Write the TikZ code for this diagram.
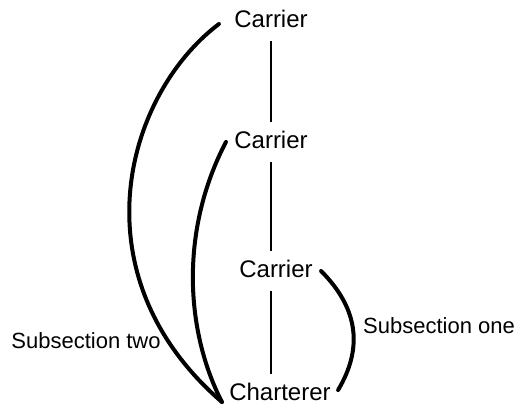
\documentclass[tikz,border=0pt]{standalone}
\usepackage{fontspec}
\setmainfont{Liberation Sans}
\usepackage{tikz}
\usetikzlibrary{positioning}

\begin{document}
\begin{tikzpicture}[x=0.5pt, y=-0.5pt,
    party/.style={font=\fontsize{12}{14}\selectfont, text height=9pt, text depth=3pt, inner sep=4pt},
    note/.style={font=\fontsize{11}{13}\selectfont, text height=8.25pt, text depth=2.75pt, inner sep=0pt},
    spine/.style={line width=1pt},
    leg/.style={line width=2pt, line cap=round}]
  \useasboundingbox (0,0) rectangle (519,407);
  % the chain of parties
  \node[party] (c1) at (271,21)  {Carrier};
  \node[party] (c2) at (271,142) {Carrier};
  \node[party] (c3) at (276,271) {Carrier};
  \node[party] (ch) at (280,394) {Charterer};
  \draw[spine] (c1) -- (c2);
  \draw[spine] (c2) -- (c2 |- c3.north);
  \draw[spine] (c2 |- c3.south) -- (c2 |- ch.north);
  % subsections
  \coordinate (foot) at ([shift={(1,8)}]ch.west);
  \draw[leg] ([shift={(-7,3)}]c1.west) .. controls (125,95) and (75,275) .. (foot);
  \draw[leg] (c2.west) .. controls (180,230) and (185,330) .. (foot);
  \draw[leg] (c3.east) .. controls (360,310) and (362,350) .. ([shift={(-1,-4)}]ch.east);
  \node[note] (sub1) at (439,327.5) {Subsection one};
  \node[note] (sub2) at (86,342.5) {Subsection two};
\end{tikzpicture}
\end{document}
